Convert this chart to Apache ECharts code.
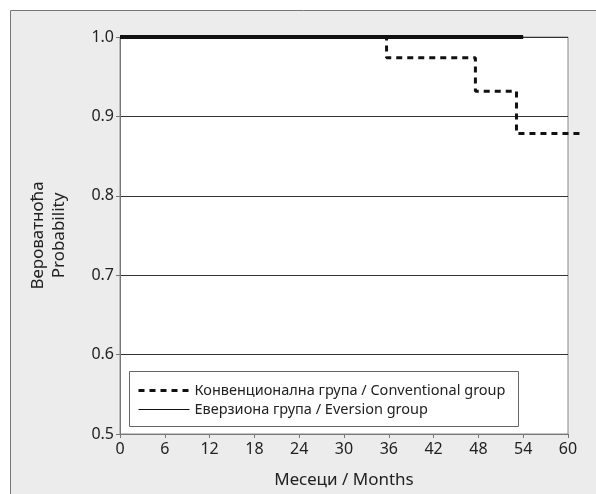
<!DOCTYPE html>
<html><head><meta charset="utf-8">
<script src="https://cdn.jsdelivr.net/npm/echarts@6/dist/echarts.min.js"></script>
<style>html,body{margin:0;padding:0;background:#fff}#c{width:596px;height:494px}</style>
</head><body><div id="c"></div>
<script>
const seriesNames = ['Конвенционална група / Conventional group', 'Еверзиона група / Eversion group'];
const conventionalMonths = [0, 35.7, 47.6, 53.1, 61.6];
const conventionalSurv = [1.0, 0.974, 0.932, 0.879, 0.879];
const eversionMonths = [0, 54];
const eversionSurv = [1.0, 1.0];
const FONT = 'Noto Sans';

// visible grid: 0..60 months; overflow grid shares the same scale but reaches 62 months
const G = {left: 120, top: 37, width: 448, height: 399};
const X_MAX = 60, X_OVER = 62;

const chart = echarts.init(document.getElementById('c'), null, {renderer: 'canvas'});
chart.setOption({
  animation: false,
  textStyle: {fontFamily: FONT},
  graphic: [
    {type: 'rect', z: -10, shape: {x: 10.5, y: 10.5, width: 600, height: 500}, style: {fill: '#ececec', stroke: '#777', lineWidth: 1}},
    {type: 'rect', z: 3, shape: {x: 129.5, y: 371.5, width: 389, height: 55}, style: {fill: '#fff', stroke: '#666', lineWidth: 1}}
  ],
  grid: [
    {left: G.left, top: G.top, width: G.width, height: G.height, show: true, backgroundColor: '#fff', borderColor: '#888', borderWidth: 1},
    {left: G.left, top: G.top, width: G.width * X_OVER / X_MAX, height: G.height, show: false}
  ],
  legend: {
    orient: 'vertical', left: 132, top: 378, itemWidth: 51, itemHeight: 12, itemGap: 4, z: 5,
    textStyle: {fontFamily: FONT, fontSize: 14.5, color: '#222'},
    data: [
      {name: seriesNames[0], itemStyle: {opacity: 0}, lineStyle: {width: 3, type: [6, 5]}},
      {name: seriesNames[1], itemStyle: {opacity: 0}, lineStyle: {width: 1, type: 'solid'}}
    ]
  },
  xAxis: [{
    gridIndex: 0, type: 'value', min: 0, max: X_MAX, interval: 6,
    name: 'Месеци / Months', nameLocation: 'middle', nameGap: 38,
    nameTextStyle: {fontFamily: FONT, fontSize: 17, color: '#222'},
    axisLine: {show: true, lineStyle: {color: '#777', width: 1}},
    axisTick: {show: true, length: 4, lineStyle: {color: '#777'}},
    axisLabel: {fontFamily: FONT, fontSize: 16, color: '#222', margin: 7},
    splitLine: {show: false}
  }, {
    gridIndex: 1, type: 'value', min: 0, max: X_OVER, show: false
  }],
  yAxis: [{
    gridIndex: 0, type: 'value', min: 0.5, max: 1.0, interval: 0.1,
    name: 'Вероватноћа\nProbability', nameLocation: 'middle', nameGap: 50, nameRotate: 90,
    nameTextStyle: {fontFamily: FONT, fontSize: 17, color: '#222', lineHeight: 21},
    axisLine: {show: true, lineStyle: {color: '#777', width: 1}},
    axisTick: {show: true, length: 4, lineStyle: {color: '#777'}},
    axisLabel: {fontFamily: FONT, fontSize: 16, color: '#222', margin: 6, formatter: v => v.toFixed(1)},
    splitLine: {show: true, lineStyle: {color: '#333', width: 1}}
  }, {
    gridIndex: 1, type: 'value', min: 0.5, max: 1.0, show: false
  }],
  series: [
    {
      name: seriesNames[0], type: 'line', step: 'end', symbol: 'none', clip: false,
      xAxisIndex: 1, yAxisIndex: 1,
      data: conventionalMonths.map((m, i) => [m, conventionalSurv[i]]),
      lineStyle: {color: '#111', width: 3, type: [6, 5]}, itemStyle: {color: '#111'}, z: 2
    },
    {
      name: seriesNames[1], type: 'line', symbol: 'none', clip: false,
      xAxisIndex: 0, yAxisIndex: 0,
      data: eversionMonths.map((m, i) => [m, eversionSurv[i]]),
      lineStyle: {color: '#111', width: 4, type: 'solid'}, itemStyle: {color: '#111'}, z: 3
    }
  ]
});
</script></body></html>
